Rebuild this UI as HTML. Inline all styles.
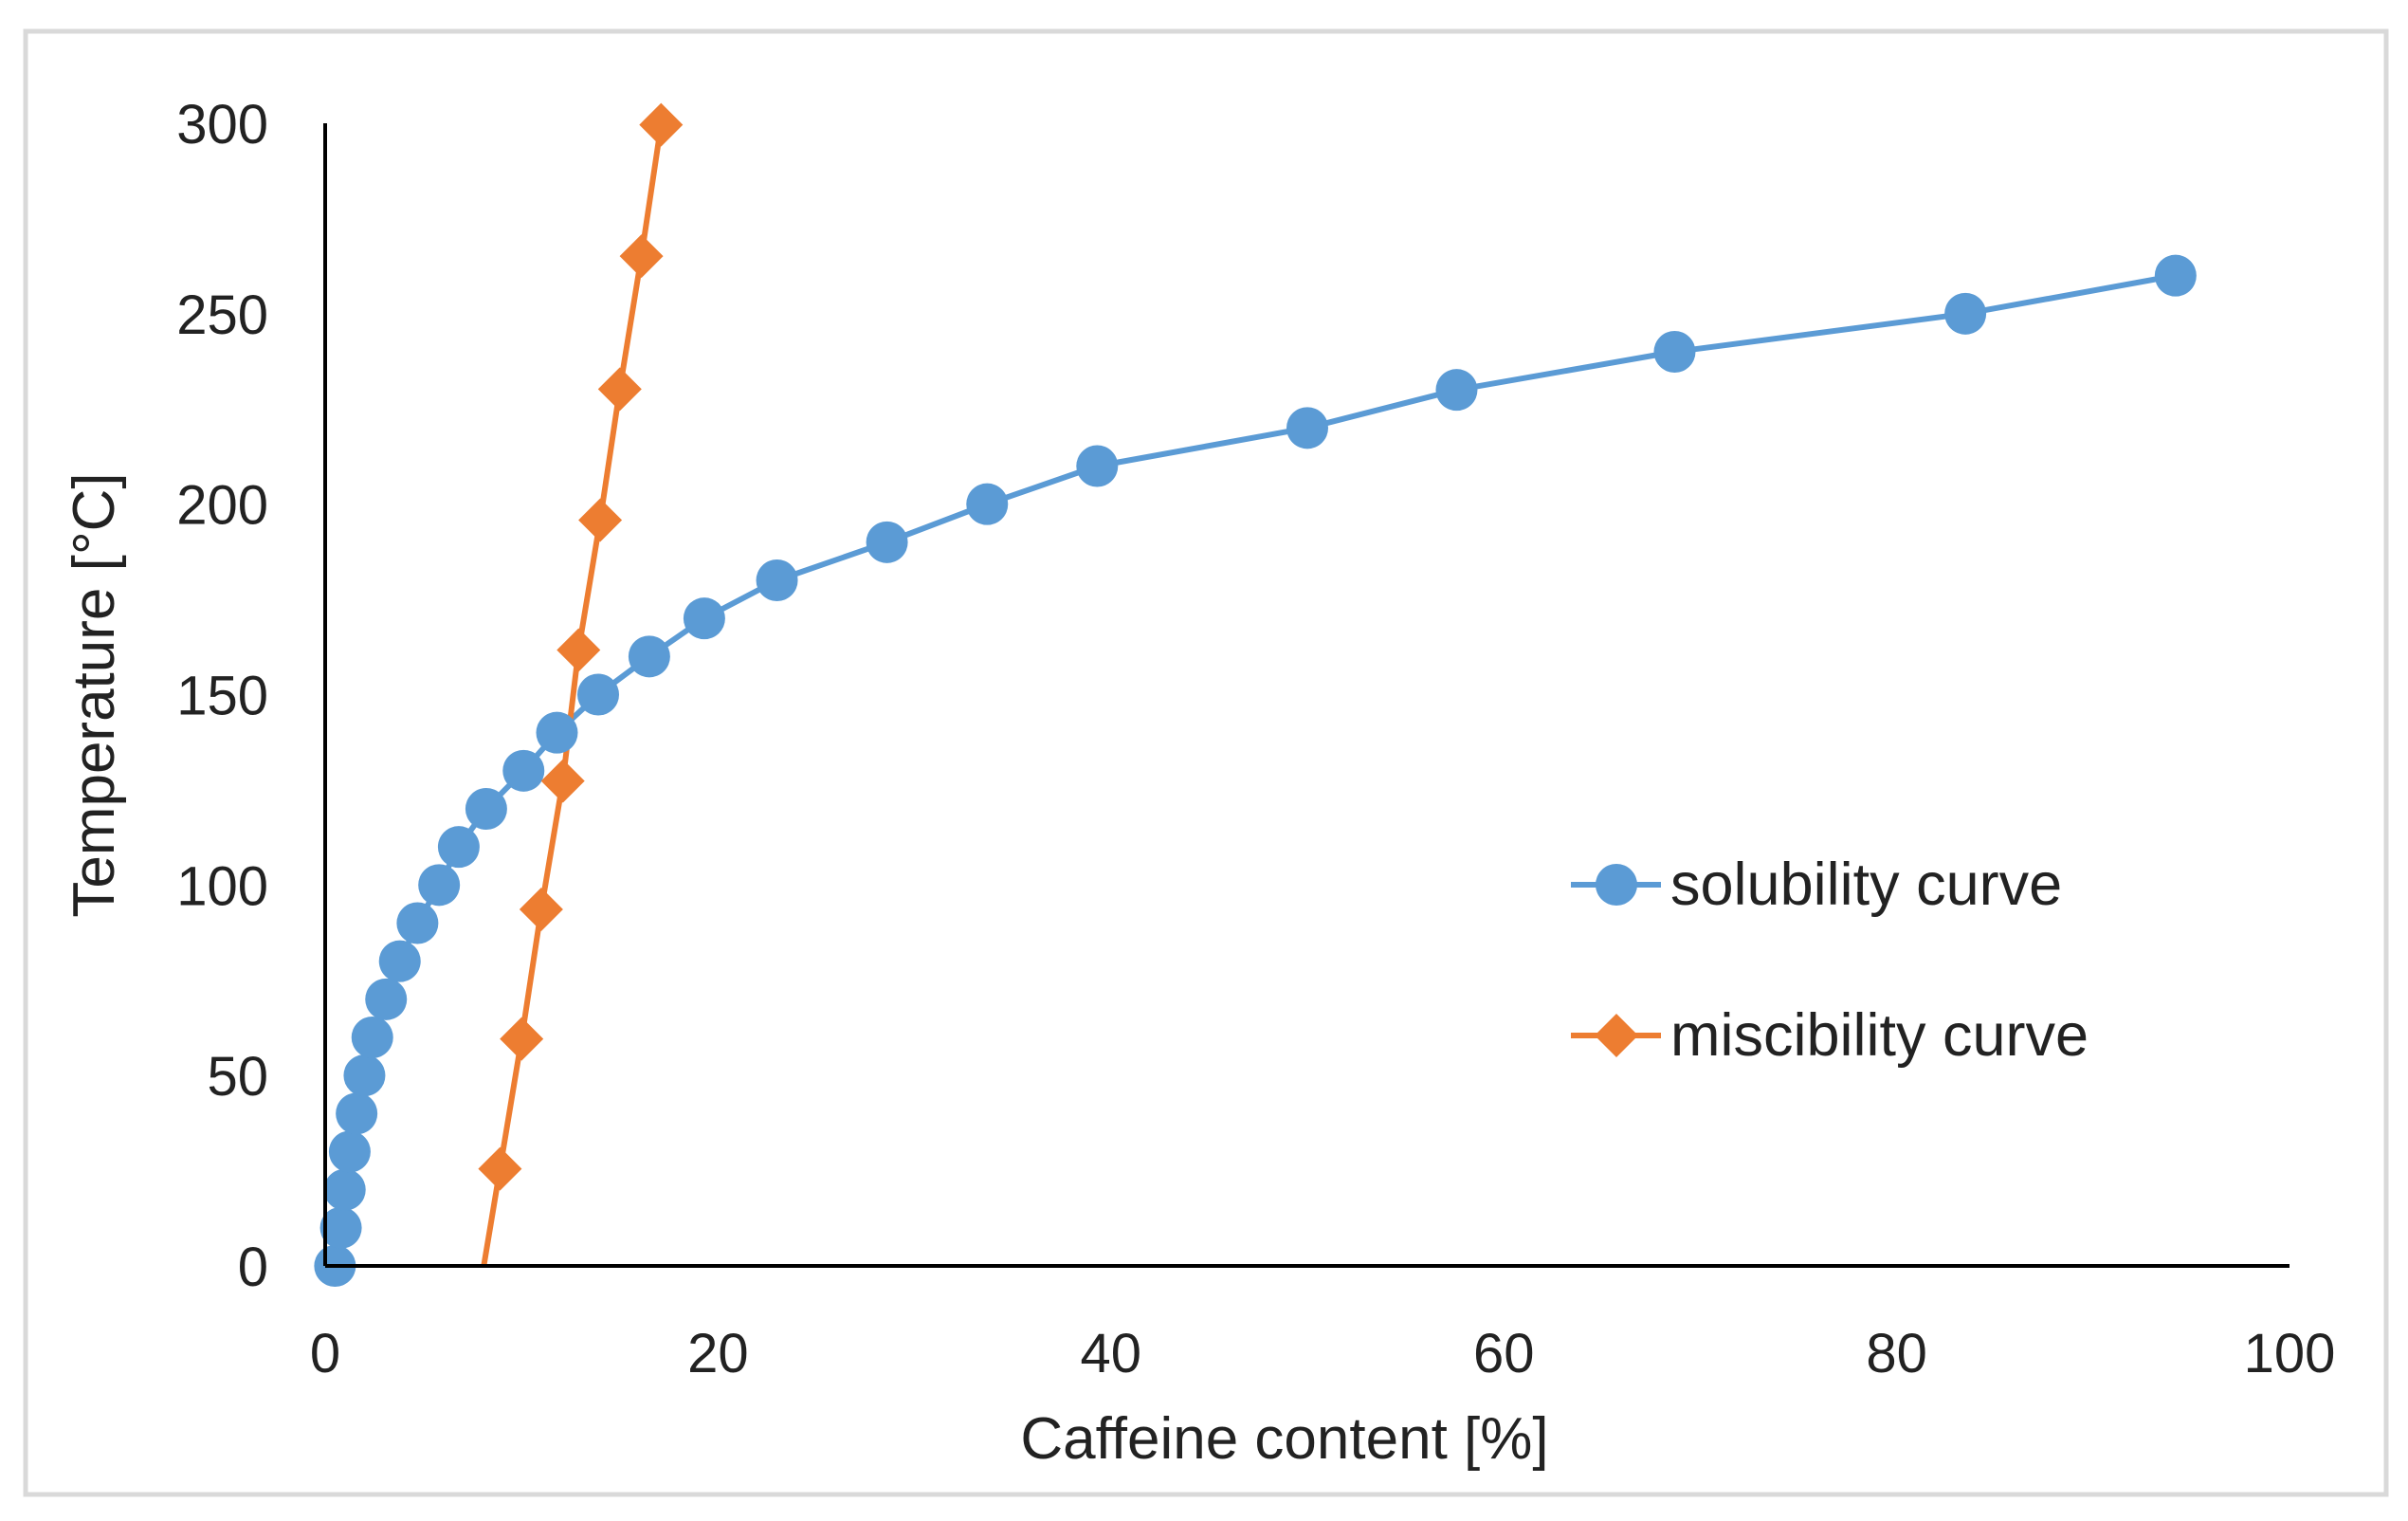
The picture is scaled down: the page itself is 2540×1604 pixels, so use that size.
<!DOCTYPE html>
<html><head><meta charset="utf-8"><style>
html,body{margin:0;padding:0;background:#fff;}
svg{display:block;font-family:"Liberation Sans",sans-serif;}
</style></head><body>
<svg id="chart" width="2540" height="1604" viewBox="0 0 2540 1604">
<rect x="27" y="33" width="2490" height="1543" fill="#fff" stroke="#d9d9d9" stroke-width="5"/>
<defs><clipPath id="pc"><rect x="343" y="100" width="2100" height="1235"/></clipPath></defs>
<g id="series" clip-path="url(#pc)"></g>
<g id="markers"></g>
<g id="axes"></g>
<text x="1355" y="1538" font-size="62" text-anchor="middle" fill="#222">Caffeine content [%]</text>
<text transform="translate(120,733) rotate(-90)" font-size="62" text-anchor="middle" fill="#222">Temperature [°C]</text>
<g>
<g>
<line x1="1657" y1="933" x2="1752" y2="933" stroke="#5b9bd5" stroke-width="6"/>
<circle cx="1705" cy="933" r="22" fill="#5b9bd5"/>
<text x="1762" y="954" font-size="63" fill="#222">solubility curve</text>
</g>
<g>
<line x1="1657" y1="1092" x2="1752" y2="1092" stroke="#ed7d31" stroke-width="6"/>
<polygon points="1705,1069 1728,1092 1705,1115 1682,1092" fill="#ed7d31"/>
<text x="1762" y="1113" font-size="63" fill="#222">miscibility curve</text>
</g>
</g>
</svg>
<script>
const xTicks=[0,20,40,60,80,100];
const yTicks=[0,50,100,150,200,250,300];
const solX=[0.5,0.8,1.0,1.25,1.6,2.0,2.4,3.1,3.8,4.7,5.8,6.8,8.2,10.1,11.8,13.9,16.5,19.3,23.0,28.6,33.7,39.3,50.0,57.6,68.7,83.5,94.2];
const solT=[0,10,20,30,40,50,60,70,80,90,100,110,120,130,140,150,160,170,180,190,200,210,220,230,240,250,260];
const misX=[7.8,8.9,10.0,11.0,12.1,12.9,14.0,15.0,16.1,17.1];
const misT=[-8.5,25.5,59.6,93.6,127.3,161.7,195.8,230.2,265.1,299.6];

const X0=343,X1=2415,Y0=1335,Y1=130;
function sx(v){return X0+(v-0)/(100-0)*(X1-X0);}
function sy(v){return Y0-(v-0)/(300-0)*(Y0-Y1);}
const NS="http://www.w3.org/2000/svg";
function mk(tag,attrs,parent){const e=document.createElementNS(NS,tag);for(const k in attrs)e.setAttribute(k,attrs[k]);parent.appendChild(e);return e;}
const axes=document.getElementById('axes');
const series=document.getElementById('series');
const markers=document.getElementById('markers');

let ya=mk('line',{x1:X0,y1:Y1,x2:X0,y2:Y0,stroke:'#000','stroke-width':4},axes);


let xa=mk('line',{x1:X0,y1:Y0,x2:X1,y2:Y0,stroke:'#000','stroke-width':4},axes);



xTicks.forEach(t=>{
  const e=mk('text',{x:sx(t),y:1447,'font-size':58,'text-anchor':'middle',fill:'#222'},axes);
  e.textContent=t;
  
  
});
yTicks.forEach(t=>{
  const e=mk('text',{x:283,y:sy(t)+21,'font-size':58,'text-anchor':'end',fill:'#222'},axes);
  e.textContent=t;
  
  
});

const sp=solX.map((x,i)=>sx(x)+','+sy(solT[i])).join(' ');
const sl=mk('polyline',{points:sp,fill:'none',stroke:'#5b9bd5','stroke-width':6,'stroke-linejoin':'round'},series);


const mp=misX.map((x,i)=>sx(x)+','+sy(misT[i])).join(' ');
const ml=mk('polyline',{points:mp,fill:'none',stroke:'#ed7d31','stroke-width':6,'stroke-linejoin':'round'},series);



solX.forEach((x,i)=>{
  const c=mk('circle',{cx:sx(x),cy:sy(solT[i]),r:22,fill:'#5b9bd5'},markers);
  
  
});
misX.forEach((x,i)=>{
  if(misT[i]<0)return;
  const cx=sx(x),cy=sy(misT[i]),h=23;
  const p=mk('polygon',{points:`${cx},${cy-h} ${cx+h},${cy} ${cx},${cy+h} ${cx-h},${cy}`,fill:'#ed7d31'},markers);
  
  
});
</script>
</body></html>
